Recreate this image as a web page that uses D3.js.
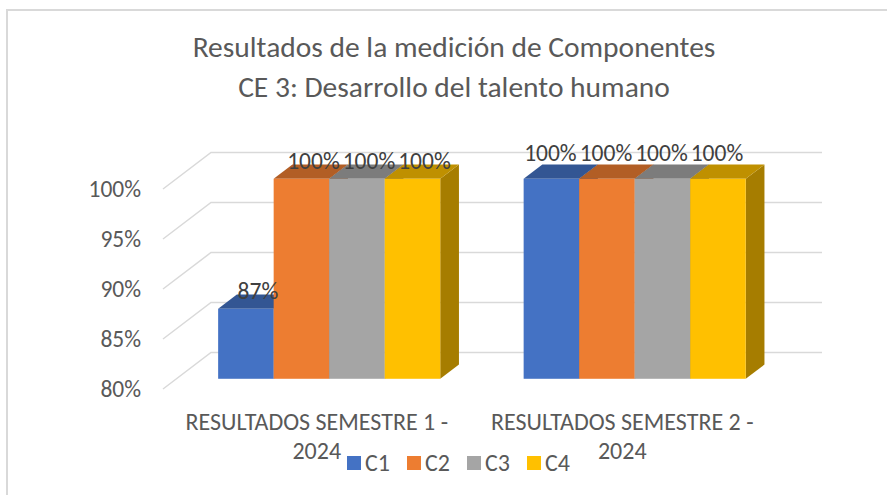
<!DOCTYPE html>
<html>
<head>
<meta charset="utf-8">
<script src="https://cdn.jsdelivr.net/npm/d3@7"></script>
<style>
  body { margin: 0; background: #fff; }
  svg { display: block; font-family: Carlito, Calibri, Lato, sans-serif; }
</style>
</head>
<body>
<svg id="chart" width="887" height="495"></svg>
<script>
const titleLines = ["Resultados de la medición de Componentes", "CE 3: Desarrollo del talento humano"];
const categories = ["RESULTADOS SEMESTRE 1 - 2024", "RESULTADOS SEMESTRE 2 - 2024"];
const categoryLines = [["RESULTADOS SEMESTRE 1 -", "2024"], ["RESULTADOS SEMESTRE 2 -", "2024"]];
const seriesNames = ["C1", "C2", "C3", "C4"];
const seriesColors = ["#4472C4", "#ED7D31", "#A5A5A5", "#FFC000"];
const c1Values = [0.87, 1.00];
const c2Values = [1.00, 1.00];
const c3Values = [1.00, 1.00];
const c4Values = [1.00, 1.00];
const yTicks = [0.80, 0.85, 0.90, 0.95, 1.00];

const seriesValues = [c1Values, c2Values, c3Values, c4Values];

const svg = d3.select("#chart");

// frame (only top and left edges show)
svg.append("line").attr("x1", 6).attr("x2", 887).attr("y1", 10).attr("y2", 10)
  .attr("stroke", "#d9d9d9").attr("stroke-width", 2);
svg.append("line").attr("x1", 7).attr("x2", 7).attr("y1", 10).attr("y2", 495)
  .attr("stroke", "#d9d9d9").attr("stroke-width", 2);

// title
svg.append("text")
  .attr("x", 454).attr("y", 57)
  .attr("text-anchor", "middle")
  .style("font-size", "29.5px")
  .style("fill", "#595959")
  .selectAll("tspan")
  .data(titleLines)
  .enter()
  .append("tspan")
  .attr("x", 454)
  .attr("dy", (d, i) => i === 0 ? 0 : 40)
  .text(d => d);

// 3d geometry
const depth = { dx: 48, dy: -36.5 };
const barDepthStart = 0.28;
const barDepth = 0.39;

const x = d3.scaleBand()
  .domain(categories)
  .range([163, 774]);

const groupWidth = x.bandwidth() * 0.727;
const xs = d3.scaleBand()
  .domain(seriesNames)
  .range([0, groupWidth]);

const y = d3.scaleLinear()
  .domain([0.80, 1.00])
  .range([389, 189]);

// gridlines: floor diagonal + back wall line
const grid = svg.append("g")
  .attr("stroke", "#d9d9d9")
  .attr("stroke-width", 1.5)
  .attr("fill", "none");

grid.selectAll("path")
  .data(yTicks)
  .enter()
  .append("path")
  .attr("d", d => {
    const x0 = x.range()[0], x1 = x.range()[1];
    const yy = y(d);
    return `M${x0},${yy}L${x0 + depth.dx},${yy + depth.dy}L${x1 + depth.dx},${yy + depth.dy}`;
  });

// y axis labels
svg.append("g")
  .selectAll("text")
  .data(yTicks)
  .enter()
  .append("text")
  .attr("x", 141)
  .attr("y", d => y(d))
  .attr("dy", "0.35em")
  .attr("text-anchor", "end")
  .style("font-size", "23.5px")
  .style("fill", "#595959")
  .text(d3.format(".0%"));

// bars
const shade = (c, k) => {
  const col = d3.rgb(c);
  return d3.rgb(col.r * k, col.g * k, col.b * k).formatHex();
};

const offX = depth.dx * barDepthStart, offY = depth.dy * barDepthStart;
const bdx = depth.dx * barDepth, bdy = depth.dy * barDepth;

const bars = [];
categories.forEach((cat, ci) => {
  seriesNames.forEach((s, si) => {
    const left = x(cat) + (x.bandwidth() - groupWidth) / 2 + xs(s) + offX;
    bars.push({
      ci, si,
      value: seriesValues[si][ci],
      x0: left,
      x1: left + xs.bandwidth(),
      top: y(seriesValues[si][ci]) + offY,
      bottom: y(0.80) + offY,
      color: seriesColors[si]
    });
  });
});

const barG = svg.append("g");

bars.forEach(b => {
  const g = barG.append("g");
  g.append("path")
    .attr("d", `M${b.x1},${b.bottom}L${b.x1 + bdx},${b.bottom + bdy}L${b.x1 + bdx},${b.top + bdy}L${b.x1},${b.top}Z`)
    .attr("fill", shade(b.color, 0.65));
  g.append("path")
    .attr("d", `M${b.x0},${b.top}L${b.x1},${b.top}L${b.x1 + bdx},${b.top + bdy}L${b.x0 + bdx},${b.top + bdy}Z`)
    .attr("fill", shade(b.color, 0.75));
  g.append("rect")
    .attr("x", b.x0)
    .attr("y", b.top)
    .attr("width", b.x1 - b.x0)
    .attr("height", b.bottom - b.top)
    .attr("fill", b.color);
});

// data labels
const labelShift = [{ dx: 12, dy: -10 }, { dx: -1, dy: -18 }];
svg.append("g")
  .selectAll("text")
  .data(bars)
  .enter()
  .append("text")
  .attr("x", d => (d.x0 + d.x1) / 2 + labelShift[d.ci].dx)
  .attr("y", d => d.top + labelShift[d.ci].dy)
  .attr("text-anchor", "middle")
  .style("font-size", "23.5px")
  .style("fill", "#404040")
  .text(d => d3.format(".0%")(d.value));

// category labels
svg.append("g")
  .selectAll("text")
  .data(categories)
  .enter()
  .append("text")
  .attr("text-anchor", "middle")
  .style("font-size", "24px")
  .style("fill", "#595959")
  .each(function(d, i) {
    d3.select(this).selectAll("tspan")
      .data(categoryLines[i])
      .enter()
      .append("tspan")
      .attr("x", x(d) + x.bandwidth() / 2 + 1)
      .attr("y", (t, j) => 430 + j * 29)
      .text(t => t);
  });

// legend
const legend = svg.append("g")
  .selectAll("g")
  .data(seriesNames)
  .enter()
  .append("g")
  .attr("transform", (d, i) => `translate(${347 + i * 60},456)`);

legend.append("rect")
  .attr("width", 14)
  .attr("height", 14)
  .attr("fill", (d, i) => seriesColors[i]);

legend.append("text")
  .attr("x", 18)
  .attr("y", 15)
  .style("font-size", "24px")
  .style("fill", "#595959")
  .text(d => d);
</script>
</body>
</html>
